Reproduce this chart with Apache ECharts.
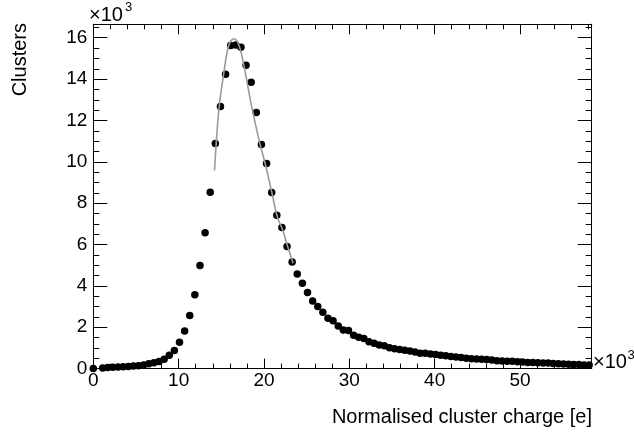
<!DOCTYPE html>
<html>
<head>
<meta charset="utf-8">
<script src="https://cdn.jsdelivr.net/npm/echarts@6/dist/echarts.min.js"></script>
<style>
html,body{margin:0;padding:0;background:#fff;}
#chart{width:634px;height:435px;}
</style>
</head>
<body>
<div id="chart"></div>
<script>
// Normalised cluster charge (x10^3 e) — bin centres
var chargeX = [0, 1.1, 1.7, 2.3, 2.9, 3.5, 4.1, 4.7, 5.3, 5.9, 6.5, 7.1, 7.7, 8.3, 8.9, 9.5,
  10.1, 10.7, 11.3, 11.9, 12.5, 13.1, 13.7, 14.3, 14.9, 15.5, 16.1, 16.7, 17.3, 17.9, 18.5,
  19.1, 19.7, 20.3, 20.9, 21.5, 22.1, 22.7, 23.3, 23.9, 24.5, 25.1, 25.7, 26.3, 26.9, 27.5,
  28.1, 28.7, 29.3, 29.9, 30.5, 31.1, 31.7, 32.3, 32.9, 33.5, 34.1, 34.7, 35.3, 35.9, 36.5,
  37.1, 37.7, 38.3, 38.9, 39.5, 40.1, 40.7, 41.3, 41.9, 42.5, 43.1, 43.7, 44.3, 44.9, 45.5,
  46.1, 46.7, 47.3, 47.9, 48.5, 49.1, 49.7, 50.3, 50.9, 51.5, 52.1, 52.7, 53.3, 53.9, 54.5,
  55.1, 55.7, 56.3, 56.9, 57.5, 58.1];
// Clusters (x10^3)
var clusters = [0, 0.03, 0.05, 0.07, 0.08, 0.09, 0.10, 0.12, 0.14, 0.18, 0.23, 0.28, 0.34, 0.45, 0.65, 0.88,
  1.28, 1.82, 2.57, 3.57, 4.98, 6.57, 8.53, 10.88, 12.68, 14.23, 15.62, 15.65, 15.54, 14.67, 13.85,
  12.38, 10.84, 9.92, 8.52, 7.41, 6.82, 5.90, 5.15, 4.57, 4.13, 3.68, 3.27, 3.00, 2.73, 2.44,
  2.31, 2.06, 1.87, 1.84, 1.61, 1.52, 1.45, 1.30, 1.23, 1.14, 1.11, 1.01, 0.96, 0.92, 0.89,
  0.85, 0.80, 0.74, 0.74, 0.71, 0.68, 0.64, 0.62, 0.58, 0.56, 0.54, 0.50, 0.48, 0.47, 0.45,
  0.44, 0.41, 0.38, 0.37, 0.36, 0.35, 0.33, 0.32, 0.30, 0.29, 0.28, 0.27, 0.27, 0.25, 0.24,
  0.22, 0.21, 0.20, 0.20, 0.18, 0.17];
// Fit curve
var fitX = [14.21, 14.40, 14.75, 15.27, 15.74, 16.09, 16.48, 16.86, 17.33, 17.85, 18.55, 19.52, 20.14, 20.92, 21.55, 22.18, 22.83, 23.42];
var fitY = [9.58, 10.87, 12.68, 14.23, 15.43, 15.83, 15.95, 15.83, 15.27, 14.23, 12.68, 10.88, 9.92, 8.52, 7.36, 6.71, 5.83, 5.10];
var xTitle = 'Normalised cluster charge [e]';
var yTitle = 'Clusters';

var X_MIN = 0, X_MAX = 58.4, Y_MIN = 0, Y_MAX = 16.65;
var FONT = 'Liberation Sans, Arial, Helvetica, sans-serif';

var chart = echarts.init(document.getElementById('chart'), null, {renderer: 'canvas'});
var pts = chargeX.map(function (x, i) { return [x, clusters[i]]; });
var fit = fitX.map(function (x, i) { return [x, fitY[i]]; });

function xAx(pos, major, label) {
  return {
    type: 'value', position: pos, min: X_MIN, max: X_MAX, interval: major ? 10 : 2,
    axisLine: {show: true, onZero: false, lineStyle: {color: '#000', width: 1}},
    axisTick: {show: true, inside: true, length: major ? 10 : 5, lineStyle: {color: '#000', width: 1}},
    axisLabel: {show: label, color: '#000', fontSize: 19, fontFamily: FONT, margin: 3,
      formatter: function (v) { return (Math.abs(v % 10) < 1e-6) ? String(v) : ''; }},
    splitLine: {show: false}
  };
}
function yAx(pos, major, label) {
  return {
    type: 'value', position: pos, min: Y_MIN, max: Y_MAX, interval: major ? 2 : 0.5,
    axisLine: {show: true, onZero: false, lineStyle: {color: '#000', width: 1}},
    axisTick: {show: true, inside: true, length: major ? 14 : 6, lineStyle: {color: '#000', width: 1}},
    axisLabel: {show: label, color: '#000', fontSize: 19, fontFamily: FONT, margin: 6,
      formatter: function (v) { return (Math.abs(v % 2) < 1e-6) ? String(v) : ''; }},
    splitLine: {show: false}
  };
}

chart.setOption({
  animation: false,
  backgroundColor: '#fff',
  grid: {left: 93.3, right: 42.3, top: 24.3, bottom: 66.4, containLabel: false},
  xAxis: [xAx('bottom', true, true), xAx('bottom', false, false), xAx('top', true, false), xAx('top', false, false)],
  yAxis: [yAx('left', true, true), yAx('left', false, false), yAx('right', true, false), yAx('right', false, false)],
  series: [
    {type: 'scatter', xAxisIndex: 0, yAxisIndex: 0, data: pts, symbol: 'circle', symbolSize: 7.5,
      itemStyle: {color: '#000', opacity: 1}, clip: false, z: 2},
    {type: 'line', xAxisIndex: 0, yAxisIndex: 0, data: fit, smooth: 0.4, showSymbol: false,
      lineStyle: {color: '#9a9a9a', width: 1.6}, z: 3}
  ],
  graphic: [
    {type: 'text', x: 20, y: 23, rotation: Math.PI / 2,
      style: {text: yTitle, fill: '#000', font: '20px ' + FONT, align: 'right', verticalAlign: 'middle'}},
    {type: 'text', x: 592, y: 417,
      style: {text: xTitle, fill: '#000', font: '20px ' + FONT, align: 'right', verticalAlign: 'middle'}},
    {type: 'text', x: 89, y: 15.5,
      style: {text: '×10', fill: '#000', font: '20px ' + FONT, align: 'left', verticalAlign: 'middle'}},
    {type: 'text', x: 125, y: 7,
      style: {text: '3', fill: '#000', font: '13px ' + FONT, align: 'left', verticalAlign: 'middle'}},
    {type: 'text', x: 593, y: 362.5,
      style: {text: '×10', fill: '#000', font: '20px ' + FONT, align: 'left', verticalAlign: 'middle'}},
    {type: 'text', x: 627.5, y: 355,
      style: {text: '3', fill: '#000', font: '13px ' + FONT, align: 'left', verticalAlign: 'middle'}}
  ]
});
</script>
</body>
</html>
